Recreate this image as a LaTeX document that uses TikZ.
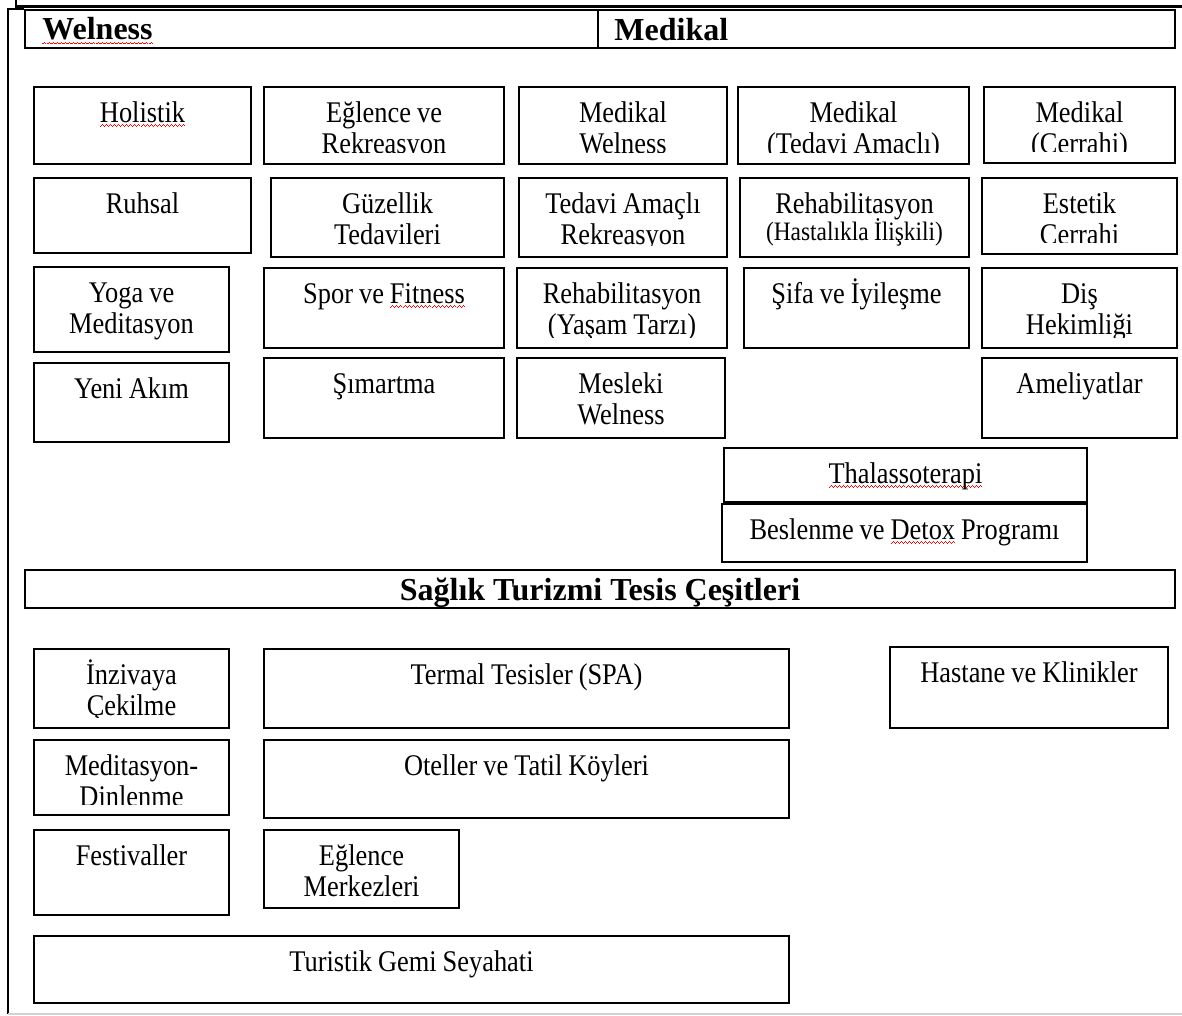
\documentclass[tikz,border=0pt]{standalone}
\usepackage{fontspec}
\setmainfont{Liberation Serif}
\newfontfamily\govde{Liberation Serif}[FakeStretch=0.88]

% kirmizi dalgali alt cizgi
\newsavebox{\imlakutu}
\newcommand{\dalga}{\hbox{\rule[-2.2pt]{0.5pt}{0.45pt}\rule[-1.8pt]{0.5pt}{0.45pt}\rule[-1.4pt]{0.5pt}{0.45pt}\rule[-1.8pt]{0.5pt}{0.45pt}}}
\newcommand{\imla}[1]{\sbox{\imlakutu}{#1}\rlap{\color{red}\hbox to\wd\imlakutu{\xleaders\dalga\hfill}}\usebox{\imlakutu}}

\tikzset{
	kutu/.style={draw, line width=1pt, rectangle, inner sep=0pt, anchor=north west},
	yazi/.style={font={\govde\fontsize{15}{15.5}\selectfont}, align=center, inner sep=0pt, anchor=base},
	baslik/.style={font=\fontsize{16}{18}\selectfont\bfseries, inner sep=0pt, anchor=base west},
}

% kutu: ad, x1, y1, x2, y2, metin
\newcommand{\kutu}[6]{%
	\node[kutu, minimum width={(#4-#2)*0.5pt}, minimum height={(#5-#3)*0.5pt}] (#1) at (#2,#3) {};
	\begin{scope}
		\clip (#1.north west) rectangle ([yshift=6pt]#1.south east);
		\node[yazi, text width={(#4-#2)*0.5pt}] (#1-m) at ([yshift=-18.25pt]#1.north) {\spaceskip=0.2em\relax #6};
	\end{scope}
}

\begin{document}
\begin{tikzpicture}[x=0.5pt,y=-0.5pt]
		\useasboundingbox (0,0) rectangle (1182,1016);
		
		% Baslik
		\node[kutu, minimum width=575pt, minimum height=19pt] (ust) at (24,9) {};
		\coordinate (bolum) at (598,0);
		\draw[line width=1pt] (ust.north -| bolum) -- (ust.south -| bolum);
		\node[baslik] (welness) at (42,40) {\imla{Welness}};
		\node[baslik] (medikal) at (614,41) {Medikal};
		
		% Cerceve
		\coordinate (sol-ust) at (8,9);
		\coordinate (sol-alt) at (8,1014);
		\coordinate (sag-alt) at (1182,1014);
		\draw[line width=0.8pt] (sol-alt) -- (sol-ust) -- (ust.north west);
		\draw[gray!35, line width=0.8pt] (sol-alt) -- (sag-alt);
		\draw[line width=1.1pt] (16,0) -- (16,6.5) -- (1182,6.5);
		
		% Satir 1
		\kutu{holistik}{33}{86}{250}{163}{\imla{Holistik}}
		\kutu{eglence}{263}{86}{503}{163}{Eğlence ve\\Rekreasyon}
		\kutu{medwel}{518}{86}{726}{163}{Medikal\\Welness}
		\kutu{medted}{737}{86}{968}{163}{Medikal\\(Tedavi Amaçlı)}
		\kutu{medcer}{983}{86}{1174}{162}{Medikal\\(Cerrahi)}
		
		% Satir 2
		\kutu{ruhsal}{33}{177}{250}{252}{Ruhsal}
		\kutu{guzellik}{270}{177}{503}{256}{Güzellik\\Tedavileri}
		\kutu{tedrek}{518}{177}{726}{256}{Tedavi Amaçlı\\Rekreasyon}
		\kutu{rehhas}{739}{177}{968}{256}{Rehabilitasyon\\[-2pt]{\fontsize{13.3}{15.5}\selectfont\spaceskip=0.2em(Hastalıkla İlişkili)}}
		\kutu{estetik}{981}{177}{1176}{253}{Estetik\\Cerrahi}
		
		% Satir 3
		\kutu{yoga}{33}{266}{228}{351}{Yoga ve\\Meditasyon}
		\kutu{spor}{263}{267}{503}{347}{Spor ve \imla{Fitness}}
		\kutu{rehyas}{516}{267}{726}{347}{Rehabilitasyon\\(Yaşam Tarzı)}
		\kutu{sifa}{743}{267}{968}{347}{Şifa ve İyileşme}
		\kutu{dis}{981}{267}{1176}{347}{Diş\\Hekimliği}
		
		% Satir 4
		\kutu{yeni}{33}{362}{228}{441}{Yeni Akım}
		\kutu{simartma}{263}{357}{503}{437}{Şımartma}
		\kutu{mesleki}{516}{357}{724}{437}{Mesleki\\Welness}
		\kutu{ameliyat}{981}{357}{1176}{437}{Ameliyatlar}
		\kutu{thalasso}{723}{447}{1086}{501}{\imla{Thalassoterapi}}
		\kutu{beslenme}{721}{503}{1086}{561}{Beslenme ve \imla{Detox} Programı}
		
		% Tesisler
		\node[kutu, minimum width=575pt, minimum height=19pt] (tesis) at (24,569) {};
		\node[baslik, anchor=base] (tesis-m) at (600,600) {Sağlık Turizmi Tesis Çeşitleri};
		
		\kutu{inziva}{33}{648}{228}{727}{İnzivaya\\Çekilme}
		\kutu{termal}{263}{648}{788}{727}{Termal Tesisler (SPA)}
		\kutu{hastane}{889}{646}{1167}{727}{Hastane ve Klinikler}
		\kutu{meditasyon}{33}{739}{228}{814}{Meditasyon-\\Dinlenme}
		\kutu{oteller}{263}{739}{788}{817}{Oteller ve Tatil Köyleri}
		\kutu{festival}{33}{829}{228}{914}{Festivaller}
		\kutu{eglmer}{263}{829}{458}{907}{Eğlence\\Merkezleri}
		\kutu{gemi}{33}{935}{788}{1002}{Turistik Gemi Seyahati}
	\end{tikzpicture}
\end{document}
